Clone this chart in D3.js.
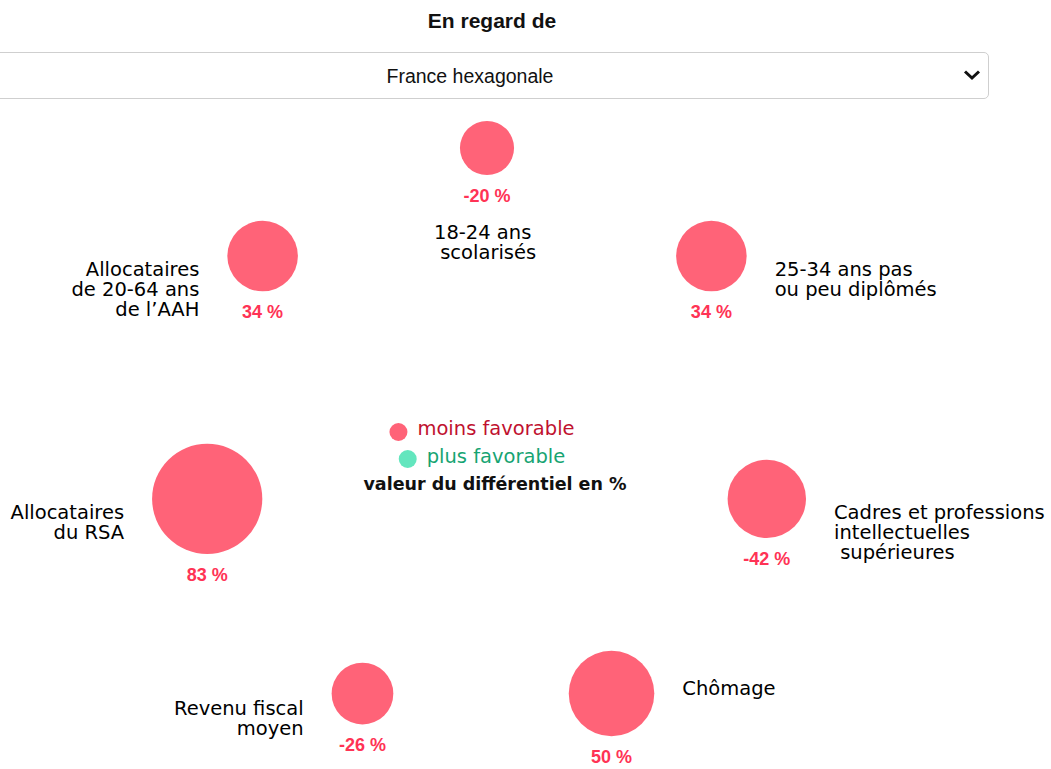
<!DOCTYPE html>
<html>
<head>
    <meta charset="utf-8">
    <title>En regard de</title>
    <style>
        html, body {
            margin: 0;
            padding: 0;
            width: 1051px;
            height: 769px;
            overflow: hidden;
            background: #fff;
        }
        #chart {
            position: absolute;
            left: 0;
            top: 0;
        }
        #territoire {
            position: absolute;
            left: -49px;
            top: 52px;
            width: 1038px;
            height: 47px;
            border: 1px solid #cfcfcf;
            border-radius: 5px;
            background: transparent;
            -webkit-appearance: none;
            appearance: none;
            font-family: "Liberation Sans", Arial, sans-serif;
            font-size: 19.5px;
            color: #111;
            text-align: center;
            text-align-last: center;
            z-index: 2;
        }
        .cat-label {
            font-family: "DejaVu Sans", Verdana, sans-serif;
            font-size: 19.5px;
            fill: #000;
            white-space: pre;
        }
        .val-label {
            font-family: "Liberation Sans", Arial, sans-serif;
            font-weight: bold;
            font-size: 18px;
            fill: #ff3355;
            text-anchor: middle;
        }
    </style>
    <script src="https://d3js.org/d3.v7.min.js"></script>
</head>
<body>
    <svg id="chart"></svg>
    <select id="territoire">
        <option>France hexagonale</option>
    </select>
<script>
// données (sens horaire depuis le haut)
const categories = [
    "18-24 ans\n scolarisés",
    "25-34 ans pas\nou peu diplômés",
    "Cadres et professions\nintellectuelles\n supérieures",
    "Chômage",
    "Revenu fiscal\nmoyen",
    "Allocataires\ndu RSA",
    "Allocataires\nde 20-64 ans\nde l’AAH"
];
const valeurs = [-20, 34, -42, 50, -26, 83, 34];
const favorable = [false, false, false, false, false, false, false];
const legende = ["moins favorable", "plus favorable"];

// placement des libellés (côté, décalage vertical de la 1re ligne)
const placement = [
    { side: "bottom", dy: 91 },
    { side: "right", dy: 20 },
    { side: "right", dy: 20 },
    { side: "right", dy: 1 },
    { side: "left", dy: 21 },
    { side: "left", dy: 20 },
    { side: "left", dy: 20 }
];

const width = 1051, height = 769;
const cx = 487, cy = 435, rayon = 287;

const svg = d3.select("#chart")
    .attr("width", width)
    .attr("height", height);

svg.append("text")
    .attr("x", 492)
    .attr("y", 28)
    .attr("text-anchor", "middle")
    .attr("font-family", "Liberation Sans, Arial, sans-serif")
    .attr("font-weight", "bold")
    .attr("font-size", "21px")
    .attr("fill", "#111")
    .text("En regard de");

// chevron du menu déroulant
svg.append("path")
    .attr("d", d3.line()([[965, 71.5], [972, 78], [979, 71.5]]))
    .attr("fill", "none")
    .attr("stroke", "#111")
    .attr("stroke-width", 3);

const r = d3.scaleSqrt().domain([0, 100]).range([0, 60.5]);
const angle = d3.scaleLinear()
    .domain([0, categories.length])
    .range([-Math.PI / 2, 1.5 * Math.PI]);

const data = categories.map((c, i) => ({
    nom: c,
    valeur: valeurs[i],
    favorable: favorable[i],
    place: placement[i],
    x: cx + rayon * Math.cos(angle(i)),
    y: cy + rayon * Math.sin(angle(i))
}));

const couleur = d => d ? "#63e6be" : "#ff6378";

const g = svg.selectAll(".item")
    .data(data)
    .enter()
    .append("g")
    .attr("class", "item")
    .attr("transform", d => `translate(${d.x},${d.y})`);

g.append("circle")
    .attr("r", d => r(Math.abs(d.valeur)))
    .attr("fill", d => couleur(d.favorable));

g.append("text")
    .attr("class", "val-label")
    .attr("y", d => r(Math.abs(d.valeur)) + 27)
    .text(d => d.valeur + " %");

g.append("text")
    .attr("class", "cat-label")
    .attr("text-anchor", d => d.place.side === "left" ? "end" : "start")
    .each(function(d) {
        const rr = r(Math.abs(d.valeur));
        const dx = d.place.side === "left" ? -(rr + 28) : d.place.side === "right" ? rr + 28 : -53;
        d3.select(this).selectAll("tspan")
            .data(d.nom.split("\n"))
            .enter()
            .append("tspan")
            .attr("x", dx)
            .attr("y", (l, j) => d.place.dy + j * 20)
            .text(l => l);
    });

// légende
const leg = svg.append("g");
const legCouleurs = ["#ff6378", "#63e6be"];
const legTexte = ["#c0112f", "#16a472"];
legende.forEach((l, i) => {
    const t = leg.append("text")
        .attr("x", 496)
        .attr("y", 435 + i * 28)
        .attr("text-anchor", "middle")
        .attr("font-family", "DejaVu Sans, Verdana, sans-serif")
        .attr("font-size", "19.5px")
        .attr("fill", legTexte[i])
        .text(l);
    const w = t.node().getComputedTextLength();
    leg.append("circle")
        .attr("cx", 496 - w / 2 - 19)
        .attr("cy", 432 + i * 27)
        .attr("r", 9)
        .attr("fill", legCouleurs[i]);
});
leg.append("text")
    .attr("x", 495)
    .attr("y", 490)
    .attr("text-anchor", "middle")
    .attr("font-family", "DejaVu Sans, Verdana, sans-serif")
    .attr("font-weight", "bold")
    .attr("font-size", "17.5px")
    .attr("fill", "#111")
    .text("valeur du différentiel en %");
</script>
</body>
</html>
